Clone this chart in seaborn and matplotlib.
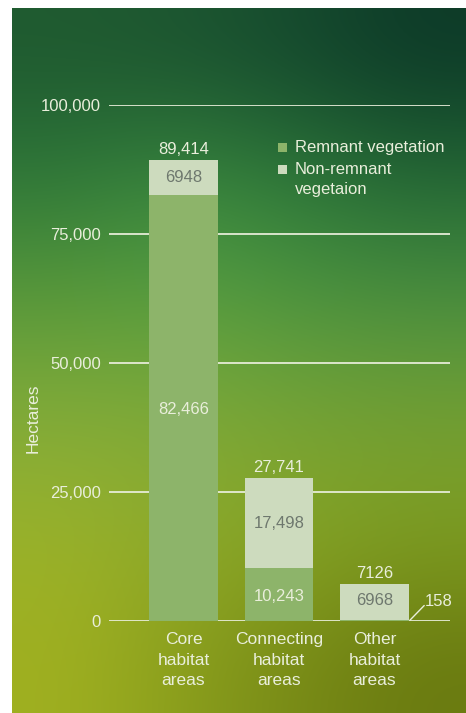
import numpy as np
import pandas as pd
import seaborn as sns
import matplotlib.pyplot as plt
from matplotlib.colors import to_rgb
from matplotlib.patches import Rectangle

# data
categories = ['Core\nhabitat\nareas', 'Connecting\nhabitat\nareas', 'Other\nhabitat\nareas']
remnant = [82466, 10243, 158]
non_remnant = [6948, 17498, 6968]
totals = [89414, 27741, 7126]
yticks = [0, 25000, 50000, 75000, 100000]
ytick_labels = ['0', '25,000', '50,000', '75,000', '100,000']
legend_labels = ['Remnant vegetation', 'Non-remnant\nvegetaion']

REMNANT_C = '#8db46a'
NONREM_C = '#cddbbe'
LIGHT = '#e9eedb'
DARK_TXT = '#6e786e'
FS = 12

sns.set_theme(style='white')
plt.rcParams['font.family'] = ['Liberation Sans', 'DejaVu Sans']

fig = plt.figure(figsize=(4.66, 7.13), dpi=100)
fig.patch.set_facecolor('white')

# photo-like background: smooth blend of a few greens
bg_colors = [
    ['#1f5a30', '#1c5530', '#154a2e', '#0d3a28'],
    ['#2f7a3a', '#3a8a40', '#2e7a3a', '#246a36'],
    ['#5a9a3a', '#5aa040', '#4e9640', '#4a9040'],
    ['#84ac3a', '#80aa3a', '#78a436', '#74a034'],
    ['#9ab22a', '#8eaa2a', '#86a424', '#7e9c20'],
    ['#a0b020', '#8a9e1c', '#788a16', '#6a7a10'],
]
bg = np.array([[to_rgb(c) for c in row] for row in bg_colors])
bg_ax = fig.add_axes([12 / 466, 0, 1 - 12 / 466, 705 / 713])
bg_ax.imshow(bg, aspect='auto', interpolation='bicubic', extent=(0, 1, 0, 1))
bg_ax.set_axis_off()

ax = fig.add_axes([109 / 466, 92 / 713, 341 / 466, 516 / 713])
ax.patch.set_alpha(0)

df = pd.DataFrame({'cat': categories, 'total': totals, 'remnant': remnant})

for y in yticks:
    ax.axhline(y, color=LIGHT, lw=1.4, alpha=0.9, zorder=0)

sns.barplot(data=df, x='cat', y='total', color=NONREM_C, saturation=1,
            width=0.72, linewidth=0, ax=ax, zorder=2)
sns.barplot(data=df, x='cat', y='remnant', color=REMNANT_C, saturation=1,
            width=0.72, linewidth=0, ax=ax, zorder=3)

ax.set_xlim(-0.78, 2.79)
ax.set_ylim(0, 100000)
ax.set_xlabel('')
ax.set_ylabel('')
for s in ax.spines.values():
    s.set_visible(False)
ax.set_yticks(yticks)
ax.set_yticklabels(ytick_labels)
ax.tick_params(axis='y', length=0, pad=6, labelsize=FS, labelcolor=LIGHT)
ax.set_xticks(range(len(categories)))
ax.set_xticklabels(categories, linespacing=1.45)
ax.tick_params(axis='x', length=0, pad=8, labelsize=12.5, labelcolor=LIGHT)
for lbl in ax.get_yticklabels():
    lbl.set_va('center_baseline')

# totals above bars
for i, t in enumerate(totals):
    ax.text(i, t + 600, f'{t:,}' if t >= 10000 else str(t), ha='center',
            va='bottom', fontsize=FS, color=LIGHT, zorder=4)

# labels inside segments
ax.text(0, remnant[0] + non_remnant[0] / 2, str(non_remnant[0]), ha='center',
        va='center', fontsize=FS, color=DARK_TXT, zorder=4)
ax.text(0, 41000, f'{remnant[0]:,}', ha='center', va='center',
        fontsize=FS, color=LIGHT, zorder=4)
ax.text(1, remnant[1] + non_remnant[1] / 2, f'{non_remnant[1]:,}',
        ha='center', va='center', fontsize=FS, color=DARK_TXT, zorder=4)
ax.text(1, remnant[1] / 2 - 300, f'{remnant[1]:,}', ha='center',
        va='center', fontsize=FS, color=LIGHT, zorder=4)
ax.text(2, totals[2] / 2 + 400, str(non_remnant[2]), ha='center',
        va='center', fontsize=FS, color=DARK_TXT, zorder=4)

# leader for the tiny remnant slice
ax.plot([2.37, 2.52], [150, 3000], color=LIGHT, lw=1, zorder=4)
ax.text(2.53, 3700, str(remnant[2]), ha='left', va='center',
        fontsize=FS, color=LIGHT, zorder=4)

fig.text(33 / 466, 1 - 418 / 713, 'Hectares', rotation=90, ha='center',
         va='center', fontsize=12.5, color=LIGHT)

# legend
for k, (lab, col) in enumerate(zip(legend_labels, [REMNANT_C, NONREM_C])):
    ytop = 148 + 22 * k
    fig.patches.append(Rectangle((278 / 466, 1 - (ytop + 4) / 713),
                                 9 / 466, 9 / 713, facecolor=col,
                                 edgecolor='none', transform=fig.transFigure))
    fig.text(295 / 466, 1 - (ytop - 8) / 713, lab, ha='left', va='top',
             fontsize=FS, color=LIGHT, linespacing=1.4)

fig.savefig('out.png', dpi=100, facecolor=fig.get_facecolor())
